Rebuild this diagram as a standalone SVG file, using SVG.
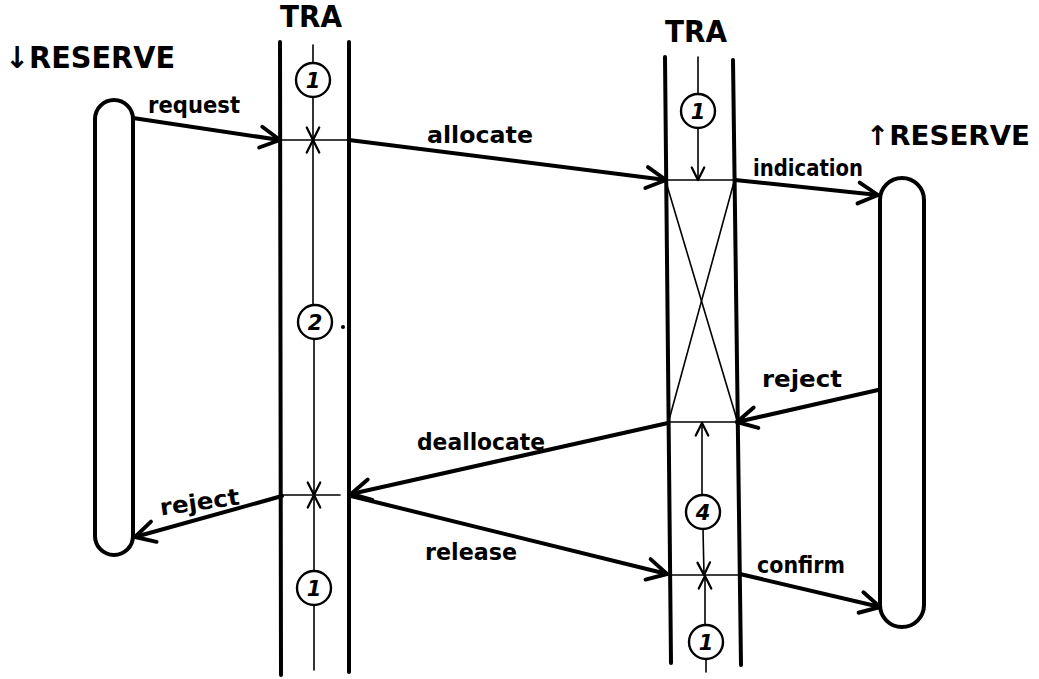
<svg xmlns="http://www.w3.org/2000/svg" width="1039" height="679" viewBox="0 0 1039 679">
<style>
  .bg{fill:#fff}
  .thick{fill:none;stroke:#000;stroke-width:4;stroke-linecap:round;stroke-linejoin:round}
  .thin{fill:none;stroke:#000;stroke-width:1.6;stroke-linecap:round}
  .circ{fill:#fff;stroke:#000;stroke-width:2.4}
  .lbl{font-family:"DejaVu Sans","Liberation Sans",sans-serif;font-size:23px;font-weight:bold;fill:#000}
  .title{font-family:"DejaVu Sans","Liberation Sans",sans-serif;font-size:30px;font-weight:bold;fill:#000}
  .num{font-family:"DejaVu Sans","Liberation Sans",sans-serif;font-size:21px;font-weight:bold;font-style:italic;fill:#000;text-anchor:middle}
</style>
<defs>
  <marker id="ah" markerUnits="userSpaceOnUse" markerWidth="30" markerHeight="30" refX="0" refY="0" viewBox="-16 -10 20 20" orient="auto" overflow="visible">
    <path d="M-13,-7 L0,0 L-13,7" fill="none" stroke="#000" stroke-width="2.6" stroke-linecap="round" stroke-linejoin="round"/>
  </marker>
  <marker id="as" markerUnits="userSpaceOnUse" markerWidth="20" markerHeight="20" refX="0" refY="0" viewBox="-12 -8 14 16" orient="auto" overflow="visible">
    <path d="M-10,-5 L0,0 L-10,5" fill="none" stroke="#000" stroke-width="1.8" stroke-linecap="round" stroke-linejoin="round"/>
  </marker>
</defs>
<rect class="bg" x="0" y="0" width="1039" height="679"/>

<g id="reserve-down">
  <text class="title" x="5" y="68" textLength="170" lengthAdjust="spacingAndGlyphs">↓RESERVE</text>
  <rect class="thick" x="95" y="100" width="38" height="455" rx="19"/>
</g>

<g id="tra-left">
  <text class="title" x="280" y="27" textLength="62" lengthAdjust="spacingAndGlyphs">TRA</text>
  <line class="thick" x1="280" y1="42" x2="281" y2="675"/>
  <line class="thick" x1="349" y1="42" x2="349" y2="672"/>
  <line class="thin" x1="280" y1="140" x2="349" y2="140"/>
  <line class="thin" x1="280" y1="495" x2="340" y2="495"/>
  <line class="thin" x1="313" y1="45" x2="313" y2="63"/>
  <line class="thin" x1="313" y1="97" x2="313" y2="140" marker-end="url(#as)"/>
  <line class="thin" x1="313" y1="305" x2="313" y2="140" marker-end="url(#as)"/>
  <line class="thin" x1="314" y1="339" x2="314" y2="495" marker-end="url(#as)"/>
  <line class="thin" x1="314" y1="571" x2="314" y2="495" marker-end="url(#as)"/>
  <line class="thin" x1="314" y1="605" x2="314" y2="670"/>
  <circle class="circ" cx="313" cy="80" r="17"/>
  <text class="num" x="313" y="88">1</text>
  <circle class="circ" cx="315" cy="322" r="17"/>
  <text class="num" x="315" y="330">2</text>
  <circle cx="343" cy="327" r="2" fill="#000"/>
  <circle class="circ" cx="314" cy="588" r="17"/>
  <text class="num" x="314" y="596">1</text>
</g>

<g id="tra-right">
  <text class="title" x="665" y="42" textLength="62" lengthAdjust="spacingAndGlyphs">TRA</text>
  <line class="thick" x1="665" y1="57" x2="671" y2="663"/>
  <line class="thick" x1="733" y1="60" x2="741" y2="665"/>
  <line class="thin" x1="665" y1="180" x2="734" y2="180"/>
  <line class="thin" x1="668" y1="422" x2="737" y2="422"/>
  <line class="thin" x1="669" y1="575" x2="740" y2="575"/>
  <line class="thin" x1="666" y1="182" x2="737" y2="420"/>
  <line class="thin" x1="734" y1="182" x2="669" y2="420"/>
  <line class="thin" x1="698" y1="57" x2="698" y2="94"/>
  <line class="thin" x1="698" y1="128" x2="698" y2="180" marker-end="url(#as)"/>
  <line class="thin" x1="702" y1="495" x2="702" y2="423" marker-end="url(#as)"/>
  <line class="thin" x1="703" y1="529" x2="704" y2="575" marker-end="url(#as)"/>
  <line class="thin" x1="705" y1="625" x2="705" y2="576" marker-end="url(#as)"/>
  <line class="thin" x1="706" y1="659" x2="706" y2="672"/>
  <circle class="circ" cx="698" cy="111" r="17"/>
  <text class="num" x="698" y="119">1</text>
  <circle class="circ" cx="703" cy="512" r="17"/>
  <text class="num" x="703" y="520">4</text>
  <circle class="circ" cx="706" cy="642" r="17"/>
  <text class="num" x="706" y="650">1</text>
</g>

<g id="reserve-up">
  <text class="title" x="866" y="145" style="font-size:27px" textLength="164" lengthAdjust="spacingAndGlyphs">↑RESERVE</text>
  <rect class="thick" x="880" y="178" width="44" height="449" rx="22"/>
</g>

<g id="connectors">
  <path class="thick" d="M133,118 L280,140" marker-end="url(#ah)"/>
  <path class="thick" d="M349,140 L666,180" marker-end="url(#ah)"/>
  <path class="thick" d="M735,180 L878,195" marker-end="url(#ah)"/>
  <path class="thick" d="M878,390 L737,422" marker-end="url(#ah)"/>
  <path class="thick" d="M668,423 L351,494" marker-end="url(#ah)"/>
  <path class="thick" d="M282,496 L135,537" marker-end="url(#ah)"/>
  <path class="thick" d="M351,496 L667,574" marker-end="url(#ah)"/>
  <path class="thick" d="M740,574 L880,607" marker-end="url(#ah)"/>
  <text class="lbl" x="148" y="113" textLength="92" lengthAdjust="spacingAndGlyphs">request</text>
  <text class="lbl" x="427" y="143" textLength="106" lengthAdjust="spacingAndGlyphs">allocate</text>
  <text class="lbl" x="753" y="176" textLength="110" lengthAdjust="spacingAndGlyphs">indication</text>
  <text class="lbl" x="762" y="387" textLength="80" lengthAdjust="spacingAndGlyphs">reject</text>
  <text class="lbl" x="417" y="450" textLength="128" lengthAdjust="spacingAndGlyphs">deallocate</text>
  <text class="lbl" x="160" y="510" textLength="80" lengthAdjust="spacingAndGlyphs" transform="rotate(-8 200 505)">reject</text>
  <text class="lbl" x="425" y="560" textLength="92" lengthAdjust="spacingAndGlyphs">release</text>
  <text class="lbl" x="757" y="573" textLength="88" lengthAdjust="spacingAndGlyphs">confirm</text>
</g>
</svg>
